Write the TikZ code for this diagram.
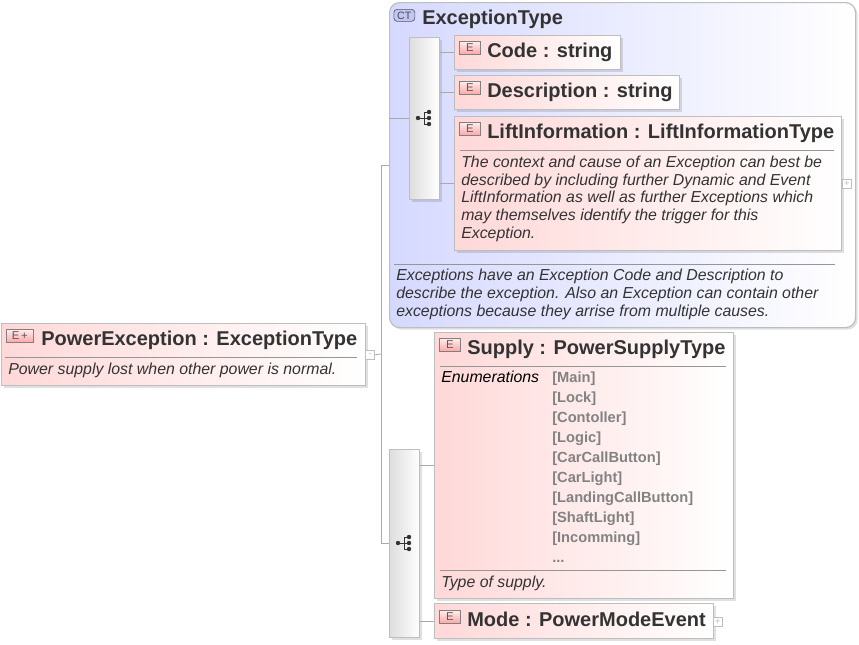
\documentclass[tikz,border=0pt]{standalone}
\usepackage{fontspec}
\setmainfont{Liberation Sans}
\usetikzlibrary{shadows}
\definecolor{inkcol}{RGB}{51,51,51}
\definecolor{edgecol}{RGB}{190,190,190}
\definecolor{wirecol}{RGB}{170,170,170}
\definecolor{rulecol}{RGB}{150,150,150}
\definecolor{pinkcol}{RGB}{255,216,216}
\definecolor{bluecol}{RGB}{214,217,255}
\definecolor{ctcol}{RGB}{194,198,244}
\definecolor{enumcol}{RGB}{130,130,130}
\tikzset{
  softshadow/.style={drop shadow={shadow xshift=1.5pt,shadow yshift=-1.5pt,fill=black,opacity=0.12}},
  boxsize/.style 2 args={minimum width=#1*0.75pt,minimum height=#2*0.75pt},
  elembox/.style={draw=edgecol,line width=0.9pt,left color=pinkcol,right color=white,inner sep=0pt,anchor=north west,softshadow},
  typebox/.style={draw=edgecol,line width=0.9pt,rounded corners=7.5pt,left color=bluecol,right color=white,inner sep=0pt,anchor=north west,softshadow},
  seqbox/.style={draw=edgecol,line width=0.9pt,left color=black!13,right color=white,inner sep=0pt,anchor=north west,softshadow},
  wire/.style={draw=wirecol,line width=0.6pt},
  rulebar/.style={draw=rulecol,line width=0.6pt},
  titletext/.style={anchor=base west,inner sep=0pt,text=inkcol,font=\fontsize{15}{17}\selectfont\bfseries},
  notetext/.style={anchor=base west,inner sep=0pt,text=inkcol,align=left,font=\fontsize{11.9}{13.2}\selectfont\itshape},
  enumtext/.style={anchor=base west,inner sep=0pt,text=enumcol,font=\fontsize{11}{12}\selectfont\bfseries},
  badge/.style={draw=black!50,line width=0.5pt,top color=pinkcol!45,bottom color=red!35,inner sep=0pt,text=black!65,font=\fontsize{8.5}{9}\selectfont,anchor=north west},
  ctbadge/.style={draw=black!65,line width=0.5pt,rounded corners=2.5pt,fill=ctcol,inner sep=0pt,text=black!70,font=\fontsize{8}{9}\selectfont,anchor=north west},
  foldbox/.style={draw=edgecol,line width=0.5pt,fill=white,inner sep=0pt,anchor=north west,text=edgecol,font=\fontsize{7}{7}\selectfont},
}
% little tree mark of a sequence
\newcommand{\seqmark}[2]{
  \begin{scope}[shift={(#1,#2)}]
    \draw [inkcol,line width=0.6pt] (-6,0) -- (0,0) (0,-6) -- (0,6) (0,-6) -- (5,-6) (0,0) -- (5,0) (0,6) -- (5,6);
    \foreach \py in {-6,0,6} \fill [inkcol] (5,\py) circle (2.2);
    \fill [inkcol] (-6,0) circle (2.2);
  \end{scope}
}
\begin{document}
\begin{tikzpicture}[x=0.75pt,y=0.75pt,yscale=-1,xscale=1]
  \useasboundingbox (0,0) rectangle (859,644);

  % complex type
  \node [typebox,boxsize={466}{325}] (ctbox) at (389,2) {};
  \node [ctbadge,boxsize={21}{12}] (ctmark) at (393.5,9) {CT};
  \node [titletext] (cttitle) at (422,24) {ExceptionType};
  \coordinate (ctruleA) at (394,264);
  \coordinate (ctruleB) at (835,264);
  \draw [rulebar] (ctruleA) -- (ctruleB);
  \node [notetext] (ctnote) at (396,316) {Exceptions have an Exception Code and Description to\\describe the exception. Also an Exception can contain other\\exceptions because they arrise from multiple causes.};

  % first sequence
  \node [seqbox,boxsize={30}{162}] (seqa) at (409,37) {};
  \node [elembox,boxsize={166}{34}] (code) at (454,35) {};
  \node [elembox,boxsize={225}{34}] (descr) at (454,75) {};
  \node [elembox,boxsize={387}{134}] (lift) at (454,116) {};
  \seqmark{424}{118}
  \draw [wire] (ctbox.west |- seqa.west) -- (seqa.west);
  \draw [wire] (code.west -| seqa.east) -- (code.west);
  \draw [wire] (descr.west -| seqa.east) -- (descr.west);
  \draw [wire] (lift.west -| seqa.east) -- (lift.west);

  \node [badge,boxsize={21}{13}] (codemark) at (459,41) {E};
  \node [titletext] (codetitle) at (487,57) {Code : string};
  \node [badge,boxsize={21}{13}] (descrmark) at (459,81) {E};
  \node [titletext] (descrtitle) at (487,97) {Description : string};
  \node [badge,boxsize={21}{13}] (liftmark) at (459,122) {E};
  \node [titletext] (lifttitle) at (487,138) {LiftInformation : LiftInformationType};
  \coordinate (liftruleA) at (460,150);
  \coordinate (liftruleB) at (834,150);
  \draw [rulebar] (liftruleA) -- (liftruleB);
  \node [notetext] (liftnote) at (461,238) {The context and cause of an Exception can best be\\described by including further Dynamic and Event\\LiftInformation as well as further Exceptions which\\may themselves identify the trigger for this\\Exception.};
  \node [foldbox,boxsize={9}{9}] (liftfold) at (842,179) {+};

  % root element
  \node [elembox,boxsize={364}{62}] (power) at (1,323) {};
  \node [badge,boxsize={27}{13}] (powermark) at (6,329) {E\,+};
  \node [titletext] (powertitle) at (41,345) {PowerException : ExceptionType};
  \coordinate (powerruleA) at (5,357);
  \coordinate (powerruleB) at (357,357);
  \draw [rulebar] (powerruleA) -- (powerruleB);
  \node [notetext] (powernote) at (8,374) {Power supply lost when other power is normal.};
  \node [foldbox,boxsize={9}{9}] (powerfold) at (365,350) {-};

  % second sequence
  \node [seqbox,boxsize={30}{188}] (seqb) at (389,449) {};
  \node [elembox,boxsize={299}{266}] (supply) at (434,332) {};
  \node [elembox,boxsize={279}{35}] (mode) at (434,603) {};
  \seqmark{404}{543}
  \draw [wire] (supply.west -| seqb.east) -- (supply.west);
  \draw [wire] (mode.west -| seqb.east) -- (mode.west);

  \node [badge,boxsize={21}{13}] (supplymark) at (439,338) {E};
  \node [titletext] (supplytitle) at (467,354) {Supply : PowerSupplyType};
  \coordinate (supplyruleA) at (440,366);
  \coordinate (supplyruleB) at (726,366);
  \draw [rulebar] (supplyruleA) -- (supplyruleB);
  \node [notetext,text=black] (enumhead) at (441,382) {Enumerations};
  \foreach \nm/\lab [count=\i from 0] in {ea/Main,eb/Lock,ec/Contoller,ed/Logic,ee/CarCallButton,ef/CarLight,eg/LandingCallButton,eh/ShaftLight,ei/Incomming}
    \node [enumtext] (\nm) at (552,{382+20*\i}) {[\lab]};
  \node [enumtext] (ej) at (552,562) {...};
  \coordinate (supplyruleC) at (440,570);
  \coordinate (supplyruleD) at (726,570);
  \draw [rulebar] (supplyruleC) -- (supplyruleD);
  \node [notetext] (supplynote) at (441,587) {Type of supply.};

  \node [badge,boxsize={21}{13}] (modemark) at (439,610) {E};
  \node [titletext] (modetitle) at (467,626) {Mode : PowerModeEvent};
  \node [foldbox,boxsize={9}{9}] (modefold) at (713,617) {+};

  % trunk
  \coordinate (trunk) at (381,354);
  \draw [wire] (powerfold.east) -- (trunk);
  \draw [wire] (trunk |- ctbox.west) -- (trunk |- seqb.west);
  \draw [wire] (trunk |- ctbox.west) -- (ctbox.west);
  \draw [wire] (trunk |- seqb.west) -- (seqb.west);
\end{tikzpicture}
\end{document}
